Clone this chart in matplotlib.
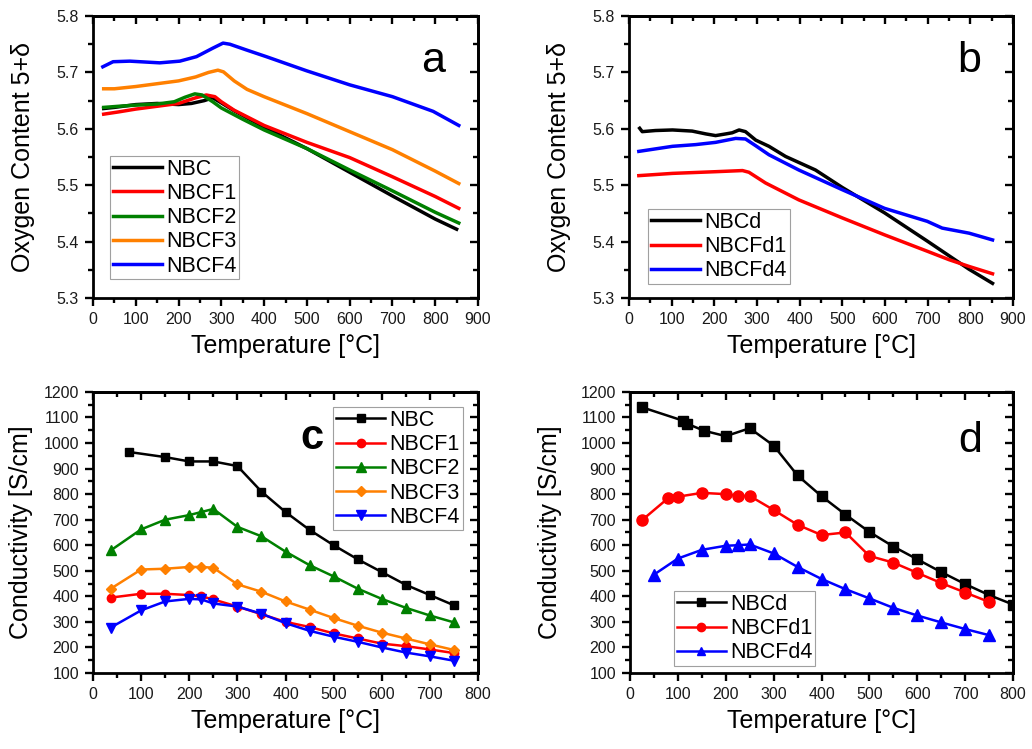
import numpy as np
import matplotlib
matplotlib.use("Agg")
import matplotlib.pyplot as plt
from matplotlib.ticker import MultipleLocator

plt.rcParams['font.family'] = ['Liberation Sans', 'DejaVu Sans']

# ------------------------
# Data
# ------------------------

# (a) oxygen content, as-prepared samples
a_nbc_t = [25, 50, 100, 150, 200, 230, 260, 280, 300, 330, 400, 500, 600, 700, 800, 850]
a_nbc_o = [5.636, 5.638, 5.643, 5.645, 5.643, 5.645, 5.650, 5.655, 5.646, 5.632,
           5.603, 5.565, 5.523, 5.481, 5.440, 5.422]
a_f1_t = [25, 60, 100, 150, 200, 240, 265, 285, 300, 330, 400, 500, 600, 700, 800, 855]
a_f1_o = [5.626, 5.630, 5.635, 5.640, 5.645, 5.655, 5.660, 5.657, 5.648, 5.633,
          5.606, 5.576, 5.549, 5.515, 5.480, 5.459]
a_f2_t = [25, 60, 100, 150, 190, 215, 238, 255, 280, 300, 350, 400, 500, 600, 700, 800, 855]
a_f2_o = [5.638, 5.640, 5.642, 5.644, 5.648, 5.656, 5.662, 5.660, 5.648, 5.637,
          5.617, 5.598, 5.565, 5.527, 5.490, 5.452, 5.433]
a_f3_t = [25, 50, 100, 150, 200, 240, 270, 292, 305, 330, 360, 400, 500, 600, 700, 800, 855]
a_f3_o = [5.671, 5.671, 5.675, 5.680, 5.685, 5.692, 5.700, 5.704, 5.701, 5.685,
          5.670, 5.657, 5.627, 5.595, 5.563, 5.525, 5.503]
a_f4_t = [23, 47, 86, 156, 203, 242, 280, 304, 320, 358, 405, 499, 600, 700, 795, 855]
a_f4_o = [5.710, 5.719, 5.720, 5.717, 5.720, 5.728, 5.743, 5.752, 5.750, 5.740,
          5.728, 5.703, 5.678, 5.657, 5.631, 5.606]

# (b) oxygen content, "d" samples
b_nbc_t = [25, 31, 62, 102, 148, 180, 203, 227, 242, 258, 273, 297, 328, 367, 437,
           500, 599, 699, 797, 852]
b_nbc_o = [5.601, 5.595, 5.597, 5.598, 5.596, 5.591, 5.588, 5.591, 5.593, 5.598,
           5.595, 5.580, 5.569, 5.551, 5.527, 5.496, 5.451, 5.401, 5.351, 5.326]
b_f1_t = [23, 102, 203, 266, 281, 320, 398, 500, 599, 699, 750, 797, 852]
b_f1_o = [5.517, 5.521, 5.524, 5.526, 5.523, 5.504, 5.474, 5.442, 5.412, 5.383,
          5.368, 5.356, 5.343]
b_f4_t = [23, 102, 156, 203, 250, 273, 297, 328, 398, 500, 599, 699, 734, 797, 852]
b_f4_o = [5.560, 5.569, 5.572, 5.576, 5.583, 5.582, 5.570, 5.554, 5.527, 5.492,
          5.459, 5.436, 5.424, 5.415, 5.403]

# (c) conductivity, as-prepared samples
c_nbc_t = [75, 150, 200, 250, 300, 350, 400, 450, 500, 550, 600, 650, 700, 750]
c_nbc_s = [965, 945, 928, 928, 910, 810, 730, 660, 600, 545, 495, 445, 405, 365]
c_t = [37, 100, 150, 200, 225, 250, 300, 350, 400, 450, 500, 550, 600, 650, 700, 750]
c_f1_s = [395, 410, 410, 405, 400, 388, 360, 330, 300, 280, 255, 235, 215, 205, 192, 178]
c_f2_s = [580, 662, 700, 718, 730, 742, 672, 635, 575, 522, 478, 430, 390, 355, 325, 298]
c_f3_s = [430, 505, 508, 515, 515, 512, 447, 418, 380, 348, 315, 285, 258, 235, 212, 190]
c_f4_s = [278, 345, 380, 390, 388, 372, 360, 332, 295, 265, 242, 222, 200, 180, 165, 148]

# (d) conductivity, "d" samples
d_nbc_t = [25, 110, 120, 155, 200, 250, 300, 350, 400, 450, 500, 550, 600, 650, 700, 750, 800]
d_nbc_s = [1140, 1088, 1075, 1048, 1027, 1058, 990, 873, 792, 720, 652, 595, 545,
           495, 448, 405, 368]
d_f1_t = [25, 80, 100, 150, 200, 225, 250, 300, 350, 400, 450, 500, 550, 600, 650, 700, 750]
d_f1_s = [698, 785, 790, 805, 800, 793, 793, 738, 680, 640, 650, 558, 532, 492, 452, 415, 378]
d_f4_t = [50, 100, 150, 200, 225, 250, 300, 350, 400, 450, 500, 550, 600, 650, 700, 750]
d_f4_s = [485, 548, 582, 598, 600, 603, 568, 515, 468, 428, 392, 355, 325, 298, 272, 248]

BLACK, RED, GREEN, ORANGE, BLUE = "#000000", "#ff0000", "#008000", "#ff8000", "#0000ff"


def style_axes(ax, xmax, xmajor, ymin, ymax, ymajor):
    ax.set_xlim(0, xmax)
    ax.set_ylim(ymin, ymax)
    ax.xaxis.set_major_locator(MultipleLocator(xmajor))
    ax.xaxis.set_minor_locator(MultipleLocator(xmajor / 2))
    ax.yaxis.set_major_locator(MultipleLocator(ymajor))
    ax.yaxis.set_minor_locator(MultipleLocator(ymajor / 2))
    for sp in ax.spines.values():
        sp.set_linewidth(2.0)
    ax.tick_params(which="both", direction="out", top=False, right=False,
                   width=1.7, labelsize=11.5, labelcolor="#1a1a1a", pad=4)
    ax.tick_params(which="major", length=6)
    ax.tick_params(which="minor", length=3.5)
    # mirrored inward ticks on top / right
    sx = ax.secondary_xaxis("top")
    sx.xaxis.set_major_locator(MultipleLocator(xmajor))
    sx.xaxis.set_minor_locator(MultipleLocator(xmajor / 2))
    sx.tick_params(which="both", direction="in", width=1.7, labeltop=False)
    sx.tick_params(which="major", length=6)
    sx.tick_params(which="minor", length=3.5)
    sx.spines["top"].set_linewidth(2.0)
    sy = ax.secondary_yaxis("right")
    sy.yaxis.set_major_locator(MultipleLocator(ymajor))
    sy.yaxis.set_minor_locator(MultipleLocator(ymajor / 2))
    sy.tick_params(which="both", direction="in", width=1.7, labelright=False)
    sy.tick_params(which="major", length=6)
    sy.tick_params(which="minor", length=3.5)
    sy.spines["right"].set_linewidth(2.0)
    ax.set_xlabel("Temperature [°C]", fontsize=18)
    ax.xaxis.label.set_va("center")


def legend(ax, markerscale=1.0, **kw):
    leg = ax.legend(fontsize=15.5, frameon=True, fancybox=False, framealpha=1,
                    edgecolor="#a0a0a0", borderpad=0.12, labelspacing=0.15,
                    handlelength=2.3, handletextpad=0.2, borderaxespad=0,
                    markerscale=markerscale, **kw)
    leg.get_frame().set_linewidth(0.8)
    return leg


fig = plt.figure(figsize=(10.32, 7.49), dpi=100)
ax_a = fig.add_axes([0.0901, 0.6021, 0.3731, 0.3765])
ax_b = fig.add_axes([0.6095, 0.6021, 0.3721, 0.3765])
ax_c = fig.add_axes([0.0901, 0.1015, 0.3731, 0.3752])
ax_d = fig.add_axes([0.6105, 0.1015, 0.3711, 0.3752])

# ---- (a)
lw = 2.5
ax_a.plot(a_nbc_t, a_nbc_o, color=BLACK, lw=lw, label="NBC")
ax_a.plot(a_f1_t, a_f1_o, color=RED, lw=lw, label="NBCF1")
ax_a.plot(a_f2_t, a_f2_o, color=GREEN, lw=lw, label="NBCF2")
ax_a.plot(a_f3_t, a_f3_o, color=ORANGE, lw=lw, label="NBCF3")
ax_a.plot(a_f4_t, a_f4_o, color=BLUE, lw=lw, label="NBCF4")
style_axes(ax_a, 900, 100, 5.3, 5.8, 0.1)
ax_a.set_ylabel("Oxygen Content 5+δ", fontsize=18)
legend(ax_a, loc="lower left", bbox_to_anchor=(0.044, 0.067))
ax_a.text(0.883, 0.84, "a", transform=ax_a.transAxes, fontsize=31,
          ha="center", va="center")

# ---- (b)
ax_b.plot(b_nbc_t, b_nbc_o, color=BLACK, lw=lw, label="NBCd")
ax_b.plot(b_f1_t, b_f1_o, color=RED, lw=lw, label="NBCFd1")
ax_b.plot(b_f4_t, b_f4_o, color=BLUE, lw=lw, label="NBCFd4")
style_axes(ax_b, 900, 100, 5.3, 5.8, 0.1)
ax_b.set_ylabel("Oxygen Content 5+δ", fontsize=18)
legend(ax_b, loc="lower left", bbox_to_anchor=(0.05, 0.05))
ax_b.text(0.885, 0.84, "b", transform=ax_b.transAxes, fontsize=31,
          ha="center", va="center")

# ---- (c)
mlw = 1.8
ax_c.plot(c_nbc_t, c_nbc_s, color=BLACK, lw=mlw, marker="s", ms=5.5, label="NBC")
ax_c.plot(c_t, c_f1_s, color=RED, lw=mlw, marker="o", ms=6, label="NBCF1")
ax_c.plot(c_t, c_f2_s, color=GREEN, lw=mlw, marker="^", ms=6.5, label="NBCF2")
ax_c.plot(c_t, c_f3_s, color=ORANGE, lw=mlw, marker="D", ms=5.5, label="NBCF3")
ax_c.plot(c_t, c_f4_s, color=BLUE, lw=mlw, marker="v", ms=6.5, label="NBCF4")
style_axes(ax_c, 800, 100, 100, 1200, 100)
ax_c.set_ylabel("Conductivity [S/cm]", fontsize=18)
legend(ax_c, markerscale=1.0, loc="upper right", bbox_to_anchor=(0.96, 0.945))
ax_c.text(0.569, 0.836, "c", transform=ax_c.transAxes, fontsize=30,
          fontweight="bold", ha="center", va="center")

# ---- (d)
ax_d.plot(d_nbc_t, d_nbc_s, color=BLACK, lw=mlw, marker="s", ms=7.5, label="NBCd")
ax_d.plot(d_f1_t, d_f1_s, color=RED, lw=mlw, marker="o", ms=8, label="NBCFd1")
ax_d.plot(d_f4_t, d_f4_s, color=BLUE, lw=mlw, marker="^", ms=8.5, label="NBCFd4")
style_axes(ax_d, 800, 100, 100, 1200, 100)
ax_d.set_ylabel("Conductivity [S/cm]", fontsize=18)
legend(ax_d, markerscale=0.75, loc="lower left", bbox_to_anchor=(0.115, 0.025))
ax_d.text(0.888, 0.826, "d", transform=ax_d.transAxes, fontsize=31,
          ha="center", va="center")

# label positions
for ax, yx in [(ax_a, -0.182), (ax_b, -0.182), (ax_c, -0.187), (ax_d, -0.209)]:
    ax.yaxis.label.set_va("center")
    ax.yaxis.set_label_coords(yx, 0.5)
    ax.xaxis.set_label_coords(0.5, -0.17)

fig.savefig("out.png", dpi=100)
